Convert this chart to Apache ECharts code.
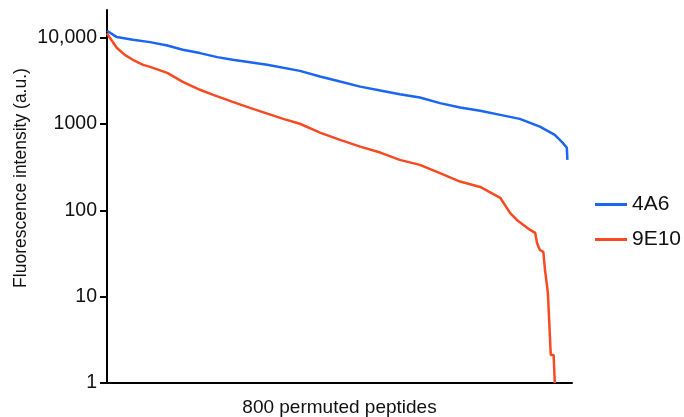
<!DOCTYPE html>
<html>
<head>
<meta charset="utf-8">
<script src="https://cdn.jsdelivr.net/npm/echarts@6/dist/echarts.min.js"></script>
<style>
  html, body { margin: 0; padding: 0; background: #fff; }
  #chart { width: 684px; height: 417px; }
</style>
</head>
<body>
<div id="chart"></div>
<script>
// peptide rank (0..800) and intensity
var rank4A6 = [0, 17, 45, 75, 105, 132, 162, 192, 219, 279, 336, 371, 406, 441, 476, 510, 545, 580, 615, 650, 685, 719, 754, 780, 794, 801, 802]
var value4A6 = [12050, 10190, 9480, 8910, 8140, 7260, 6650, 5970, 5560, 4860, 4140, 3560, 3110, 2720, 2450, 2220, 2030, 1750, 1560, 1430, 1280, 1150, 937, 750, 606, 531, 385]

var rank9E10 = [0, 5, 17, 31, 45, 63, 75, 105, 132, 162, 185, 219, 249, 307, 336, 371, 406, 441, 476, 510, 545, 580, 615, 650, 685, 702, 714, 737, 746, 749, 754, 760, 763, 768, 770, 773, 778, 780]
var value9E10 = [11280, 10000, 7660, 6350, 5560, 4860, 4610, 3930, 3090, 2500, 2180, 1810, 1540, 1150, 1010, 798, 657, 549, 468, 385, 337, 270, 216, 187, 140, 93.5, 77.6, 59.4, 54.8, 42, 34.8, 33, 20.4, 11.1, 5.8, 2.11, 2.11, 1]

var yTicks = [1, 10, 100, 1000, 10000]

var zip = (xs, ys) => xs.map((x, i) => [x, ys[i]])

var chart = echarts.init(document.getElementById('chart'))

chart.setOption({
  animation: false,
  textStyle: { fontFamily: 'Liberation Sans, Arial, sans-serif' },
  grid: {
    left: 107,
    right: 112,
    top: 10,
    bottom: 34,
    outerBoundsMode: 'none'
  },
  legend: {
    orient: 'vertical',
    left: 595,
    top: 194,
    padding: 0,
    itemWidth: 32,
    itemHeight: 3,
    itemGap: 14,
    icon: 'rect',
    textStyle: { fontSize: 21, color: '#111', lineHeight: 21, padding: [0, 0, 0, 0] },
    data: ['4A6', '9E10']
  },
  xAxis: {
    type: 'value',
    min: 0,
    max: 810,
    name: '800 permuted peptides',
    nameLocation: 'middle',
    nameGap: 15,
    nameTextStyle: { fontSize: 19, color: '#111', verticalAlign: 'top' },
    axisLine: { lineStyle: { color: '#000', width: 2 } },
    axisTick: { show: false },
    axisLabel: { show: false },
    splitLine: { show: false }
  },
  yAxis: {
    type: 'log',
    logBase: 10,
    min: 1,
    max: 21000,
    name: 'Fluorescence intensity (a.u.)',
    nameLocation: 'middle',
    nameGap: 77,
    nameMoveOverlap: false,
    nameTextStyle: { fontSize: 17.5, color: '#111', padding: [0, 0, 0, 37] },
    axisLine: { show: true, lineStyle: { color: '#000', width: 2 } },
    axisTick: { show: true, length: 7, lineStyle: { color: '#000', width: 2 }, customValues: yTicks },
    axisLabel: {
      fontSize: 19.5,
      color: '#111',
      margin: 10,
      customValues: yTicks,
      formatter: v => (v >= 10000 ? v.toLocaleString('en-US') : String(v))
    },
    splitLine: { show: false }
  },
  series: [
    {
      name: '4A6',
      type: 'line',
      showSymbol: false,
      color: '#1a66f2',
      lineStyle: { width: 2.5 },
      data: zip(rank4A6, value4A6)
    },
    {
      name: '9E10',
      type: 'line',
      showSymbol: false,
      color: '#f84a22',
      lineStyle: { width: 2.5 },
      data: zip(rank9E10, value9E10)
    }
  ]
})
</script>
</body>
</html>
